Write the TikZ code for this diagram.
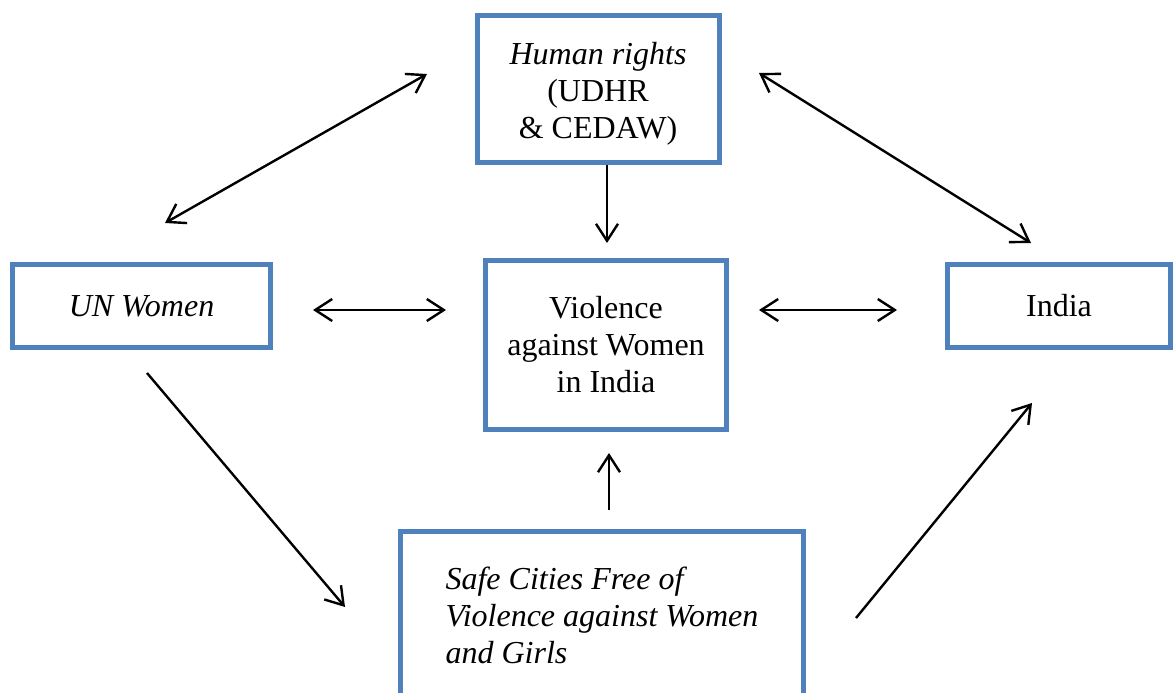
\documentclass[tikz,border=0pt]{standalone}
\usepackage{fontspec}
\setmainfont{Liberation Serif}
\usetikzlibrary{arrows.meta}
\definecolor{boxblue}{RGB}{79,129,189}
\begin{document}
\begin{tikzpicture}[x=1pt, y=-1pt,
    box/.style={draw=boxblue, line width=5pt, rectangle, inner sep=0pt,
        align=center, font=\fontsize{32}{37}\selectfont},
    link/.style={line width=2.4pt, -{Straight Barb[length=17pt, width=22pt]}},
    twolink/.style={link, {Straight Barb[length=17pt, width=22pt]}-{Straight Barb[length=17pt, width=22pt]}}]
    \useasboundingbox (0,0) rectangle (1173,693);
    \clip (0,0) rectangle (1173,693);

    % Nodes
    \node[box, minimum width=242pt, minimum height=146pt] (hum) at (598,89)
        {\rule{0pt}{32pt}\textit{Human rights}\\(UDHR\\ \& CEDAW)};
    \node[box, minimum width=258pt, minimum height=83pt] (un) at (141.5,306)
        {\textit{UN Women}};
    \node[box, minimum width=241pt, minimum height=169pt] (viol) at (606,345)
        {Violence\\against Women\\in India};
    \node[box, minimum width=223pt, minimum height=83pt] (india) at (1059,306)
        {India};
    \node[box, align=left, minimum width=403pt, minimum height=167pt] (safe) at (602,615)
        {\textit{Safe Cities Free of}\\\textit{Violence against Women}\\\textit{and Girls}};

    % Arrow ends
    \coordinate (hu1) at (427,74);
    \coordinate (un1) at (165,223);
    \coordinate (hu2) at (759,73);
    \coordinate (in1) at (1031,243);
    \coordinate (un2) at (147,373);
    \coordinate (sa1) at (345,607);
    \coordinate (sa2) at (856,618);
    \coordinate (in2) at (1032,403);

    % Edges
    \draw[twolink, shorten <=40pt, shorten >=37pt] ([yshift=-4pt]un.east) -- ([yshift=-4pt]un.east -| viol.west);
    \draw[twolink, shorten <=30pt, shorten >=48pt] ([yshift=-4pt]india.west -| viol.east) -- ([yshift=-4pt]india.west);
    \draw[link, shorten >=15pt] ([xshift=9pt]hum.south) -- ([xshift=9pt]hum.south |- viol.north);
    \draw[link, shorten <=19pt, shorten >=21pt] ([xshift=7pt]safe.north) -- ([xshift=7pt]safe.north |- viol.south);
    \draw[twolink] (un1) -- (hu1);
    \draw[twolink] (hu2) -- (in1);
    \draw[link] (un2) -- (sa1);
    \draw[link] (sa2) -- (in2);
\end{tikzpicture}
\end{document}
